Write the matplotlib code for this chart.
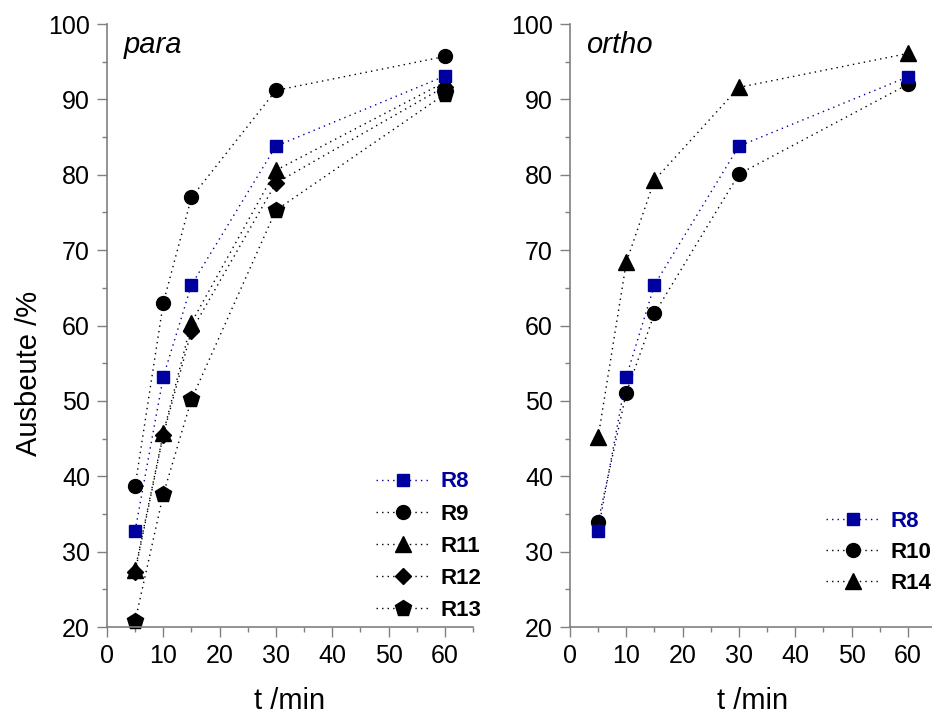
import matplotlib
matplotlib.use("Agg")
import matplotlib.pyplot as plt
from matplotlib.ticker import MultipleLocator

plt.rcParams['font.family'] = ['Liberation Sans', 'DejaVu Sans']

# Reaction times (min)
t = [5, 10, 15, 30, 60]

# para series (yield %)
para_R8 = [32.8, 53.2, 65.4, 83.8, 93.1]
para_R9 = [38.7, 63.0, 77.0, 91.2, 95.7]
para_R11 = [27.6, 45.7, 60.4, 80.6, 92.3]
para_R12 = [27.3, 45.5, 59.3, 78.9, 91.7]
para_R13 = [20.8, 37.6, 50.2, 75.3, 90.7]

# ortho series (yield %)
ortho_R8 = [32.8, 53.2, 65.4, 83.8, 93.0]
ortho_R10 = [34.0, 51.1, 61.6, 80.1, 92.0]
ortho_R14 = [45.2, 68.4, 79.3, 91.6, 96.1]

BLUE = '#0000A0'
GREY = '#808080'
DOT = (0, (1, 3))

fig = plt.figure(figsize=(9.32, 7.14), dpi=100)
ax1 = fig.add_axes([0.1148, 0.1218, 0.3927, 0.8445])
ax2 = fig.add_axes([0.6116, 0.1218, 0.3927, 0.8445])


def style(ax):
    ax.set_xlim(0, 65)
    ax.set_ylim(20, 100)
    ax.xaxis.set_major_locator(MultipleLocator(10))
    ax.xaxis.set_minor_locator(MultipleLocator(5))
    ax.yaxis.set_major_locator(MultipleLocator(10))
    ax.yaxis.set_minor_locator(MultipleLocator(5))
    for s in ('top', 'right'):
        ax.spines[s].set_visible(False)
    for s in ('left', 'bottom'):
        ax.spines[s].set_color(GREY)
        ax.spines[s].set_linewidth(1.2)
    ax.tick_params(which='major', direction='out', length=7.2, width=1.0,
                   color=GREY, labelsize=18, pad=5)
    ax.tick_params(which='minor', direction='out', length=3.6, width=1.0,
                   color=GREY)
    ax.set_xlabel('t /min', fontsize=21, labelpad=14)


def series(ax, y, marker, ms, color, label):
    ax.plot(t, y, linestyle=DOT, linewidth=1.0, color=color, marker=marker,
            markersize=ms, markerfacecolor=color, markeredgecolor=color,
            label=label, clip_on=False)


style(ax1)
series(ax1, para_R13, 'p', 12, 'black', 'R13')
series(ax1, para_R12, 'D', 8, 'black', 'R12')
series(ax1, para_R11, '^', 11, 'black', 'R11')
series(ax1, para_R9, 'o', 10, 'black', 'R9')
series(ax1, para_R8, 's', 9, BLUE, 'R8')
ax1.set_ylabel('Ausbeute /%', fontsize=21)
ax1.yaxis.set_label_coords(-0.175, 0.42)
ax1.text(0.046, 0.952, 'para', transform=ax1.transAxes, fontsize=21,
         style='italic', va='baseline', ha='left')

style(ax2)
series(ax2, ortho_R14, '^', 11, 'black', 'R14')
series(ax2, ortho_R10, 'o', 10, 'black', 'R10')
series(ax2, ortho_R8, 's', 9, BLUE, 'R8')
ax2.text(0.044, 0.952, 'ortho', transform=ax2.transAxes, fontsize=21,
         style='italic', va='baseline', ha='left')


def legend(ax, order, anchor, spacing):
    h, l = ax.get_legend_handles_labels()
    idx = [l.index(name) for name in order]
    leg = ax.legend([h[i] for i in idx], [l[i] for i in idx], loc='upper left',
                    bbox_to_anchor=anchor, borderaxespad=0, borderpad=0,
                    frameon=False, handlelength=2.4, handletextpad=0.5,
                    labelspacing=spacing, prop={'size': 16, 'weight': 'bold'})
    for txt in leg.get_texts():
        if txt.get_text() == 'R8':
            txt.set_color(BLUE)
    return leg


legend(ax1, ['R8', 'R9', 'R11', 'R12', 'R13'], (0.735, 0.258), 0.5)
legend(ax2, ['R8', 'R10', 'R14'], (0.70, 0.193), 0.45)

fig.savefig('out.png', dpi=100)
